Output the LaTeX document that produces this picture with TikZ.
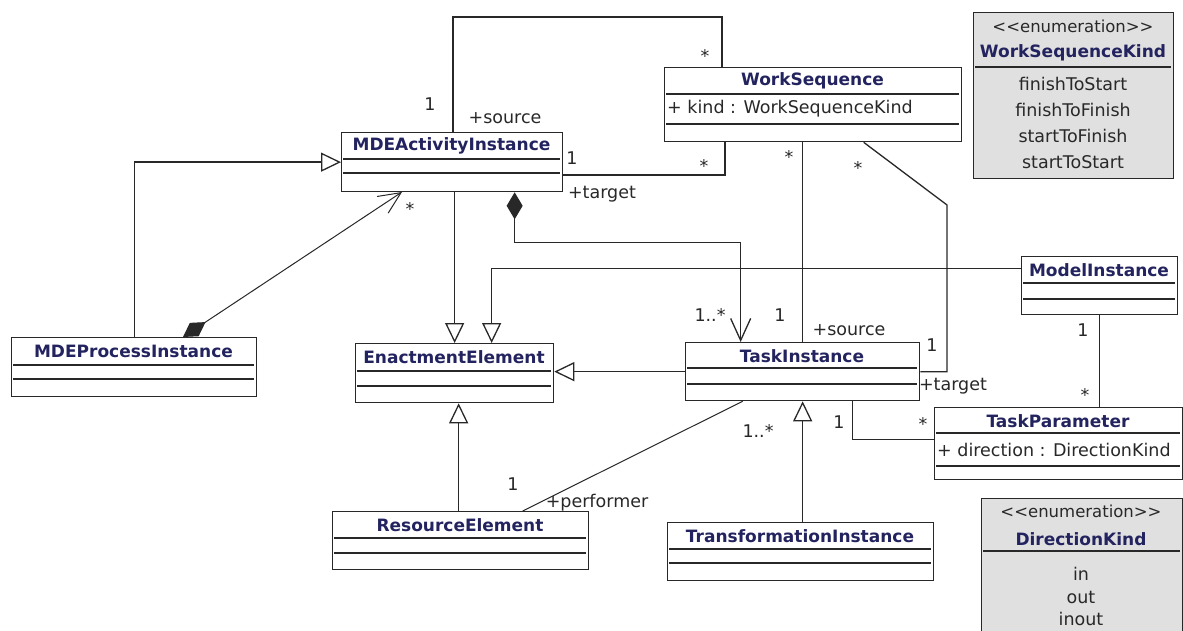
\documentclass[tikz,border=0pt]{standalone}
\usepackage{fontspec}
\setmainfont{DejaVu Sans}
\usetikzlibrary{arrows.meta}
\definecolor{titleblue}{RGB}{35,35,95}
\definecolor{enumgray}{RGB}{224,224,224}
\definecolor{ink}{RGB}{40,40,40}
\tikzset{
  cls/.style={draw=ink, line width=1.3pt, fill=white, inner sep=0pt, anchor=north west},
  ttl/.style={font=\fontsize{17}{19}\selectfont\bfseries, text=titleblue, inner sep=0pt},
  txt/.style={font=\fontsize{17.5}{19}\selectfont, text=ink, inner sep=0pt},
  enumtxt/.style={font=\fontsize{16.5}{19}\selectfont, text=ink, inner sep=0pt},
  sep/.style={draw=ink, line width=1.2pt},
  conn/.style={draw=ink, line width=1.3pt},
  gen/.style={conn, -{Triangle[open, length=20pt, width=19pt, fill=white]}},
  comp/.style={conn, {Diamond[length=27pt, width=16pt]}-{Straight Barb[length=22pt, width=20pt]}},
}
\newcommand{\umlcls}[8]{%
  \node[cls, minimum width={#4-#2}, minimum height={#5-#3}] (#1) at (#2,#3) {};
  \node[ttl] (#1-t) at ({(#2+#4)/2},{#3+14}) {#8};
  \draw[sep] (#2+2,#6) -- (#4-2,#6);
  \draw[sep] (#2+2,#7) -- (#4-2,#7);
}
\newcommand{\enumtag}{<\kern0pt<enumeration>\kern0pt>}
\begin{document}
\begin{tikzpicture}[x=1pt,y=-1pt]
\clip (0,0) rectangle (1183,631);
\fill[white] (0,0) rectangle (1183,631);

\coordinate (b1) at (947,205);

% classes
\umlcls{ai}{341}{132}{562}{191}{159}{173}{MDEActivityInstance}
\umlcls{ws}{664}{67}{961}{141}{94}{124}{WorkSequence}
\node[txt, anchor=west] (ws-a) at (667,109) {+ kind : WorkSequenceKind};
\umlcls{pi}{11}{337}{256}{396}{365}{379}{MDEProcessInstance}
\umlcls{ee}{355}{343}{553}{402}{371}{386}{EnactmentElement}
\umlcls{ti}{685}{342}{919}{400}{368}{384}{TaskInstance}
\umlcls{mi}{1021}{256}{1177}{314}{283}{299}{ModelInstance}
\umlcls{tp}{934}{407}{1182}{479}{433}{466}{TaskParameter}
\node[txt, anchor=west] (tp-a) at (937,450) {+ direction : DirectionKind};
\umlcls{re}{332}{511}{588}{569}{538}{553}{ResourceElement}
\umlcls{tr}{667}{522}{933}{580}{549}{563}{TransformationInstance}

% enumerations
\node[cls, fill=enumgray, minimum width=200, minimum height=166] (wsk) at (973,12) {};
\node[enumtxt] (wsk-s) at (1073,26) {\enumtag};
\node[ttl] (wsk-t) at (1073,53) {WorkSequenceKind};
\draw[sep] (975,67) -- (1171,67);
\node[txt] (wsk-1) at (1073,84) {finishToStart};
\node[txt] (wsk-2) at (1073,110) {finishToFinish};
\node[txt] (wsk-3) at (1073,136) {startToFinish};
\node[txt] (wsk-4) at (1073,162) {startToStart};

\node[cls, fill=enumgray, minimum width=201, minimum height=150] (dk) at (981,498) {};
\node[enumtxt] (dk-s) at (1081,511) {\enumtag};
\node[ttl] (dk-t) at (1081,539) {DirectionKind};
\draw[sep] (983,551) -- (1180,551);
\node[txt] (dk-1) at (1081,574) {in};
\node[txt] (dk-2) at (1081,597) {out};
\node[txt] (dk-3) at (1081,619) {inout};

% connectors
\draw[conn] (ai.north -| 453,0) -- (453,17) -- (722,17) -- (ws.north -| 722,0);
\draw[conn] (ai.east |- 0,175) -- (725,175) -- (ws.south -| 725,0);
\draw[gen] (pi.north) |- (ai.west);
\draw[comp, line width=1pt] (183,337) -- (402,192);
\draw[gen] (ai.south -| ee.north) -- (ee.north);
\draw[gen] ([yshift=17pt]mi.west) -| ([xshift=37pt]ee.north);
\draw[comp] ([xshift=62.5pt]ai.south) -- ++(0,50) -| ([xshift=-62pt]ti.north);
\draw[conn] (ti.north |- ws.south) -- (ti.north);
\draw[conn] ([xshift=50.5pt]ws.south) -- (b1) |- (ti.east);
\draw[gen] (ti.west) -- (ti.west -| ee.east);
\draw[conn, line width=1pt] ([xshift=-60pt]ti.south) -- ([xshift=62pt]re.north);
\draw[gen] ([xshift=2pt]tr.north) -- ([xshift=2pt]tr.north |- ti.south);
\draw[conn] ([xshift=50pt]ti.south) |- ([yshift=4pt]tp.west);
\draw[conn] (mi.south) -- (mi.south |- tp.north);
\draw[gen] ([xshift=-2pt]re.north) -- ([xshift=-2pt]re.north |- ee.south);

% multiplicities and roles
\node[txt] (m1) at (430,104) {1};
\node[txt] (m2) at (505,118) {+source};
\node[txt] (m3) at (705,56) {*};
\node[txt] (m4) at (572,158) {1};
\node[txt] (m5) at (704,166) {*};
\node[txt] (m6) at (602,194) {+target};
\node[txt] (m7) at (410,209) {*};
\node[txt] (m8) at (710,315) {1..*};
\node[txt] (m9) at (789,157) {*};
\node[txt] (m10) at (780,315) {1};
\node[txt] (m11) at (849,330) {+source};
\node[txt] (m12) at (858,168) {*};
\node[txt] (m13) at (932,345) {1};
\node[txt] (m14) at (953,386) {+target};
\node[txt] (m15) at (513,484) {1};
\node[txt] (m16) at (597,503) {+performer};
\node[txt] (m17) at (758,431) {1..*};
\node[txt] (m18) at (839,422) {1};
\node[txt] (m19) at (923,424) {*};
\node[txt] (m20) at (1083,330) {1};
\node[txt] (m21) at (1085,395) {*};
\end{tikzpicture}
\end{document}
